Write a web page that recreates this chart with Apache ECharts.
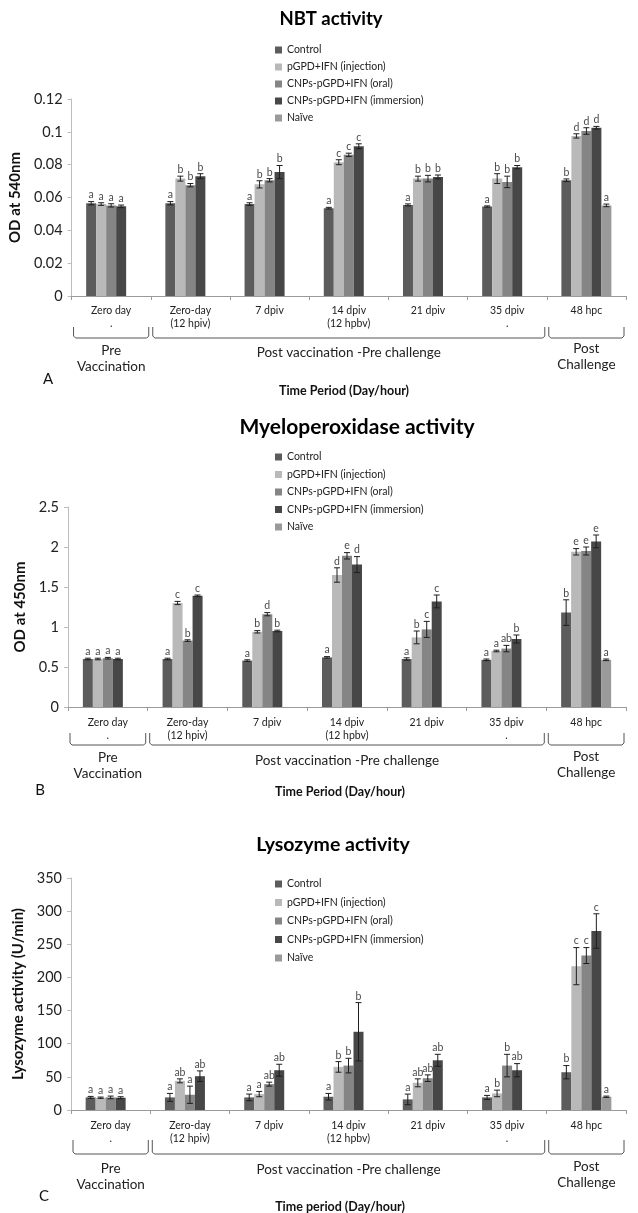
<!DOCTYPE html>
<html>
<head>
<meta charset="utf-8">
<script src="https://cdn.jsdelivr.net/npm/echarts@6/dist/echarts.min.js"></script>
<style>
  html, body { margin: 0; padding: 0; background: #fff; }
  #chart { width: 638px; height: 1213px; }
</style>
</head>
<body>
<div id="chart"></div>
<script>
// Sampling time points (x categories) and treatment groups
const categories = ['Zero day\n.', 'Zero-day\n(12 hpiv)', '7 dpiv', '14 dpiv\n(12 hpbv)', '21 dpiv', '35 dpiv\n.', '48 hpc'];
const groups = ['Control', 'pGPD+IFN (injection)', 'CNPs-pGPD+IFN (oral)', 'CNPs-pGPD+IFN (immersion)', 'Naïve'];
const groupColors = ['#5c5c5c', '#b9b9b9', '#858585', '#474747', '#9a9a9a'];
const phases = [
  { from: 0, to: 0, label: 'Pre\nVaccination' },
  { from: 1, to: 5, label: 'Post vaccination -Pre challenge' },
  { from: 6, to: 6, label: 'Post\nChallenge' }
];

// NBT activity (OD at 540 nm): means, SE, significance letters
const nbtControl    = [0.0565, 0.0565, 0.056, 0.0535, 0.0555, 0.0545, 0.0705];
const nbtInjection  = [0.056, 0.0715, 0.068, 0.0815, 0.0715, 0.0715, 0.0975];
const nbtOral       = [0.0552, 0.0675, 0.0705, 0.086, 0.0715, 0.0695, 0.1005];
const nbtImmersion  = [0.0546, 0.073, 0.0755, 0.0912, 0.0725, 0.0785, 0.1025];
const nbtNaive      = [null, null, null, null, null, null, 0.0552];
const nbtErrControl   = [0.001, 0.001, 0.0008, 0.0005, 0.0006, 0.0004, 0.0008];
const nbtErrInjection = [0.0008, 0.0015, 0.0022, 0.0015, 0.0015, 0.003, 0.0013];
const nbtErrOral      = [0.001, 0.001, 0.001, 0.001, 0.002, 0.0035, 0.002];
const nbtErrImmersion = [0.0008, 0.0015, 0.004, 0.0015, 0.0012, 0.001, 0.0008];
const nbtErrNaive     = [null, null, null, null, null, null, 0.0008];
const nbtLetControl   = ['a', 'a', 'a', 'a', 'a', 'a', 'b'];
const nbtLetInjection = ['a', 'b', 'b', 'c', 'b', 'b', 'd'];
const nbtLetOral      = ['a', 'b', 'b', 'c', 'b', 'b', 'd'];
const nbtLetImmersion = ['a', 'b', 'b', 'c', 'b', 'b', 'd'];
const nbtLetNaive     = [null, null, null, null, null, null, 'a'];

// Myeloperoxidase activity (OD at 450 nm)
const mpoControl    = [0.60, 0.60, 0.58, 0.62, 0.60, 0.59, 1.18];
const mpoInjection  = [0.60, 1.30, 0.94, 1.65, 0.87, 0.70, 1.94];
const mpoOral       = [0.61, 0.83, 1.16, 1.89, 0.97, 0.73, 1.95];
const mpoImmersion  = [0.60, 1.39, 0.95, 1.78, 1.32, 0.85, 2.07];
const mpoNaive      = [null, null, null, null, null, null, 0.59];
const mpoErrControl   = [0.01, 0.01, 0.01, 0.01, 0.015, 0.01, 0.16];
const mpoErrInjection = [0.01, 0.02, 0.015, 0.09, 0.08, 0.01, 0.04];
const mpoErrOral      = [0.01, 0.01, 0.02, 0.04, 0.1, 0.04, 0.05];
const mpoErrImmersion = [0.01, 0.01, 0.01, 0.1, 0.08, 0.05, 0.08];
const mpoErrNaive     = [null, null, null, null, null, null, 0.01];
const mpoLetControl   = ['a', 'a', 'a', 'a', 'a', 'a', 'b'];
const mpoLetInjection = ['a', 'c', 'b', 'd', 'b', 'a', 'e'];
const mpoLetOral      = ['a', 'b', 'd', 'e', 'c', 'ab', 'e'];
const mpoLetImmersion = ['a', 'c', 'b', 'd', 'c', 'b', 'e'];
const mpoLetNaive     = [null, null, null, null, null, null, 'a'];

// Lysozyme activity (U/min)
const lyzControl    = [19, 19, 19, 20, 16, 19, 57];
const lyzInjection  = [18.5, 44, 24, 65, 41, 25, 217];
const lyzOral       = [19, 23, 39, 67, 48, 67, 233];
const lyzImmersion  = [18.5, 51, 60, 118, 75, 60, 270];
const lyzNaive      = [null, null, null, null, null, null, 20];
const lyzErrControl   = [1.5, 6, 5, 5, 8, 3, 10];
const lyzErrInjection = [1, 3, 4, 8, 6, 5, 28];
const lyzErrOral      = [2, 13, 3, 11, 5, 17, 12];
const lyzErrImmersion = [1.5, 8, 9, 44, 9, 10, 26];
const lyzErrNaive     = [null, null, null, null, null, null, 1];
const lyzLetControl   = ['a', 'a', 'a', 'a', 'a', 'a', 'b'];
const lyzLetInjection = ['a', 'ab', 'a', 'b', 'ab', 'b', 'c'];
const lyzLetOral      = ['a', 'a', 'ab', 'b', 'ab', 'b', 'c'];
const lyzLetImmersion = ['a', 'ab', 'ab', 'b', 'ab', 'ab', 'c'];
const lyzLetNaive     = [null, null, null, null, null, null, 'a'];

const FONT = 'Lato, "Open Sans", sans-serif';
const BAR_W = 10;

// Panel layout and styling
const panels = [
  {
    title: 'NBT activity', titleX: 331, titleY: 19, titleSize: 18.5,
    letter: 'A', letterX: 48, letterY: 379,
    xName: 'Time Period (Day/hour)', xNameX: 344, xNameY: 391,
    yName: 'OD at 540nm', yNameGap: 38,
    grid: { left: 68, top: 99, width: 558, height: 197 },
    yMin: 0, yMax: 0.12, yStep: 0.02,
    legend: { left: 270, top: 39, itemGap: 5 },
    catLabelMargin: 8,
    bracket: { top: 31, bottom: 42 }, phaseLabelY: [55, 57, 53],
    values: [nbtControl, nbtInjection, nbtOral, nbtImmersion, nbtNaive],
    errors: [nbtErrControl, nbtErrInjection, nbtErrOral, nbtErrImmersion, nbtErrNaive],
    letters: [nbtLetControl, nbtLetInjection, nbtLetOral, nbtLetImmersion, nbtLetNaive]
  },
  {
    title: 'Myeloperoxidase activity', titleX: 357, titleY: 427, titleSize: 21,
    letter: 'B', letterX: 40, letterY: 790,
    xName: 'Time Period (Day/hour)', xNameX: 340, xNameY: 792,
    yName: 'OD at 450nm', yNameGap: 40,
    grid: { left: 68, top: 507, width: 558, height: 200 },
    yMin: 0, yMax: 2.5, yStep: 0.5,
    legend: { left: 270, top: 446, itemGap: 5.5 },
    catLabelMargin: 9,
    bracket: { top: 26, bottom: 38 }, phaseLabelY: [51, 54, 50],
    values: [mpoControl, mpoInjection, mpoOral, mpoImmersion, mpoNaive],
    errors: [mpoErrControl, mpoErrInjection, mpoErrOral, mpoErrImmersion, mpoErrNaive],
    letters: [mpoLetControl, mpoLetInjection, mpoLetOral, mpoLetImmersion, mpoLetNaive]
  },
  {
    title: 'Lysozyme activity', titleX: 333, titleY: 845, titleSize: 19.5,
    letter: 'C', letterX: 44, letterY: 1196,
    xName: 'Time period (Day/hour)', xNameX: 340, xNameY: 1207,
    yName: 'Lysozyme activity (U/min)', yNameGap: 34,
    grid: { left: 71, top: 878, width: 555, height: 232 },
    yMin: 0, yMax: 350, yStep: 50,
    legend: { left: 270, top: 873, itemGap: 6.5 },
    catLabelMargin: 9,
    bracket: { top: 30, bottom: 44 }, phaseLabelY: [59, 60, 57],
    values: [lyzControl, lyzInjection, lyzOral, lyzImmersion, lyzNaive],
    errors: [lyzErrControl, lyzErrInjection, lyzErrOral, lyzErrImmersion, lyzErrNaive],
    letters: [lyzLetControl, lyzLetInjection, lyzLetOral, lyzLetImmersion, lyzLetNaive]
  }
];

const grids = [], xAxes = [], yAxes = [], legends = [], series = [], texts = [];

panels.forEach((p, pi) => {
  grids.push(Object.assign({ containLabel: false }, p.grid));

  xAxes.push({
    type: 'category', gridIndex: pi, data: categories,
    axisLine: { lineStyle: { color: '#9a9a9a', width: 1 } },
    axisTick: { show: true, length: 4, lineStyle: { color: '#9a9a9a' } },
    axisLabel: {
      interval: 0, margin: p.catLabelMargin, color: '#222',
      fontFamily: FONT, fontSize: 10.5, lineHeight: 13
    },
    splitLine: { show: false }
  });

  yAxes.push({
    type: 'value', gridIndex: pi, min: p.yMin, max: p.yMax, interval: p.yStep,
    name: p.yName, nameLocation: 'middle', nameGap: p.yNameGap, nameRotate: 90,
    nameTextStyle: { fontFamily: FONT, fontSize: 15, fontWeight: 'bold', color: '#111' },
    axisLine: { show: true, lineStyle: { color: '#bdbdbd', width: 1 } },
    axisTick: { show: true, length: 4, inside: false, lineStyle: { color: '#bdbdbd' } },
    axisLabel: { margin: 9, color: '#222', fontFamily: FONT, fontSize: 14.5 },
    splitLine: { show: false }
  });

  legends.push({
    data: groups, orient: 'vertical', left: p.legend.left, top: p.legend.top,
    itemGap: p.legend.itemGap, itemWidth: 7, itemHeight: 7, itemTextGap: 2,
    icon: 'rect', selectedMode: false,
    textStyle: { fontFamily: FONT, fontSize: 10.5, lineHeight: 12, color: '#222' }
  });

  // Bars
  groups.forEach((g, gi) => {
    series.push({
      name: g, type: 'bar', xAxisIndex: pi, yAxisIndex: pi,
      data: p.values[gi], barWidth: BAR_W, barGap: '0%',
      itemStyle: { color: groupColors[gi] }, silent: true
    });
  });

  // Error bars with significance letters
  const errItems = [], errLetters = [];
  groups.forEach((g, gi) => {
    p.values[gi].forEach((v, ci) => {
      if (v == null) return;
      errItems.push([ci, gi, v, p.errors[gi][ci]]);
      errLetters.push(p.letters[gi][ci]);
    });
  });
  series.push({
    name: 'errorbars-' + pi, type: 'custom', xAxisIndex: pi, yAxisIndex: pi,
    data: errItems, encode: { x: 0, y: 2 }, silent: true, clip: false, z: 5,
    renderItem: (params, api) => {
      const ci = api.value(0), slot = api.value(1), v = api.value(2), e = api.value(3);
      const base = api.coord([ci, v]);
      const x = base[0] + (slot - 2) * BAR_W;
      const yTop = api.coord([ci, v + e])[1];
      const yBot = api.coord([ci, v - e])[1];
      const st = { stroke: '#1e1e1e', lineWidth: 1 };
      return {
        type: 'group',
        children: [
          { type: 'line', shape: { x1: x, y1: yTop, x2: x, y2: yBot }, style: st },
          { type: 'line', shape: { x1: x - 3, y1: yTop, x2: x + 3, y2: yTop }, style: st },
          { type: 'line', shape: { x1: x - 3, y1: yBot, x2: x + 3, y2: yBot }, style: st },
          {
            type: 'text',
            style: {
              text: errLetters[params.dataIndex], x: x, y: yTop - 1,
              align: 'center', verticalAlign: 'bottom',
              fill: '#4a4a4a', fontFamily: FONT, fontSize: 10.5
            }
          }
        ]
      };
    }
  });

  // Phase brackets beneath the time axis
  series.push({
    name: 'phases-' + pi, type: 'custom', xAxisIndex: pi, yAxisIndex: pi,
    data: phases.map(ph => [ph.from, ph.to, 0]), encode: { x: 0, y: 2 },
    silent: true, clip: false,
    renderItem: (params, api) => {
      const ph = phases[params.dataIndex];
      const bw = api.size([1, 0])[0];
      const a = api.coord([ph.from, 0]), b = api.coord([ph.to, 0]);
      const x0 = a[0] - bw / 2 + 2, x1 = b[0] + bw / 2 - 2;
      const yT = a[1] + p.bracket.top, yB = a[1] + p.bracket.bottom;
      return {
        type: 'group',
        children: [
          {
            type: 'polyline',
            shape: { points: [[x0, yT], [x0, yB - 2], [x0 + 2, yB], [x1 - 2, yB], [x1, yB - 2], [x1, yT]] },
            style: { stroke: '#555', lineWidth: 1, fill: null }
          },
          {
            type: 'text',
            style: {
              text: ph.label, x: (x0 + x1) / 2, y: a[1] + p.phaseLabelY[params.dataIndex] - 8,
              align: 'center', verticalAlign: 'top', lineHeight: 16,
              fill: '#222', fontFamily: FONT, fontSize: 13.5
            }
          }
        ]
      };
    }
  });

  texts.push(
    { type: 'text', x: p.titleX, y: p.titleY, style: { text: p.title, align: 'center', verticalAlign: 'middle', fill: '#000', fontFamily: FONT, fontSize: p.titleSize, fontWeight: 'bold' } },
    { type: 'text', x: p.letterX, y: p.letterY, style: { text: p.letter, align: 'center', verticalAlign: 'middle', fill: '#111', fontFamily: FONT, fontSize: 15 } },
    { type: 'text', x: p.xNameX, y: p.xNameY, style: { text: p.xName, align: 'center', verticalAlign: 'middle', fill: '#111', fontFamily: FONT, fontSize: 12.5, fontWeight: 'bold' } }
  );
});

const chart = echarts.init(document.getElementById('chart'), null, { renderer: 'canvas' });
chart.setOption({
  animation: false,
  backgroundColor: '#ffffff',
  grid: grids,
  xAxis: xAxes,
  yAxis: yAxes,
  legend: legends,
  series: series,
  graphic: texts
});
</script>
</body>
</html>
